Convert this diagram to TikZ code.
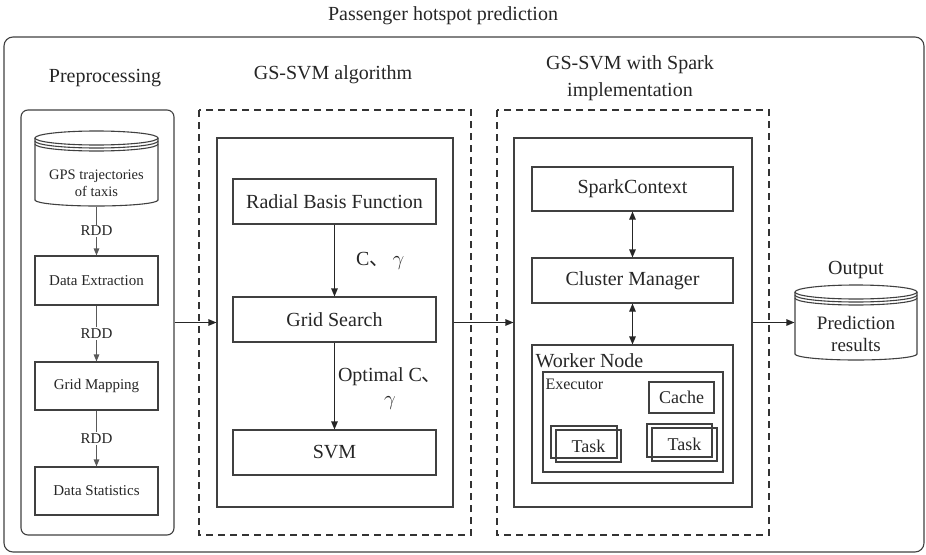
\documentclass[tikz,border=0pt]{standalone}
\usepackage{fontspec}
\setmainfont{Liberation Serif}
\newfontfamily\cjk{Noto Sans CJK SC}
\usetikzlibrary{arrows.meta}
\begin{document}
\begin{tikzpicture}[x=1pt,y=-1pt,line width=1.1pt,
  ln/.style={draw=black!75},
  box/.style={draw=black!75,rectangle,inner sep=0pt,text=black!85,font=\fontsize{20}{24}\selectfont},
  sbox/.style={box,font=\fontsize{15}{18}\selectfont},
  tbox/.style={box,font=\fontsize{18}{21}\selectfont},
  arr/.style={draw=black!85,-{Triangle[length=8pt,width=6.5pt]}},
  sarr/.style={draw=black!65,-{Triangle[length=7pt,width=5.5pt]}},
  darr/.style={draw=black!85,{Triangle[length=8pt,width=6.5pt]}-{Triangle[length=8pt,width=6.5pt]}},
  lbl/.style={font=\fontsize{20}{24}\selectfont,text=black!85,inner sep=1pt},
  slbl/.style={font=\fontsize{15}{18}\selectfont,text=black!85,fill=white,inner sep=1.5pt},
  dashbox/.style={draw=black!80,dash pattern=on 7pt off 5pt}]
\useasboundingbox (0,0) rectangle (926,554);

% title and outer frame
\node[lbl] (title) at (443,16) {Passenger hotspot prediction};
\draw[ln,rounded corners=9pt] (4,37) rectangle (924,552);

% headers
\node[lbl] (hprep) at (105,78) {Preprocessing};
\node[lbl] (hgs) at (333,75) {GS-SVM algorithm};
\node[lbl,align=center,font=\fontsize{20}{27}\selectfont] (hsp) at (630,78) {GS-SVM with Spark\\implementation};
\node[lbl] (hout) at (856,270) {Output};

% ---------- Preprocessing ----------
\node[draw=black!75,rounded corners=7pt,minimum width=153pt,minimum height=425pt,inner sep=0pt] (prep) at (97.5,322.5) {};
% GPS cylinder
\draw[ln] (96.5,138) ellipse[x radius=61.5,y radius=7];
\draw[ln] (35,141) arc[start angle=180,end angle=0,x radius=61.5,y radius=7];
\draw[ln] (35,144) arc[start angle=180,end angle=0,x radius=61.5,y radius=7];
\draw[ln] (35,138) -- (35,200) arc[start angle=180,end angle=0,x radius=61.5,y radius=6] -- (158,138);
\node[inner sep=0pt,minimum width=123pt,minimum height=75pt] (gps) at (96.5,168.5) {};
\node[font=\fontsize{14.5}{17}\selectfont,text=black!85,align=center] (gpstxt) at (96.5,183) {GPS trajectories\\of taxis};

\node[sbox,minimum width=123pt,minimum height=49pt] (de) at (96.5,280.5) {Data Extraction};
\node[sbox,minimum width=123pt,minimum height=48pt] (gm) at (96.5,386) {Grid Mapping};
\node[sbox,minimum width=123pt,minimum height=48pt] (ds) at (96.5,491) {Data Statistics};
\draw[sarr] (gps) -- node[slbl] (r1) {RDD} (de);
\draw[sarr] (de) -- node[slbl] (r2) {RDD} (gm);
\draw[sarr] (gm) -- node[slbl] (r3) {RDD} (ds);

% ---------- GS-SVM ----------
\draw[dashbox] (199,110) rectangle (471,535);
\node[box,minimum width=236pt,minimum height=369pt] (gsin) at (335,322.5) {};
\node[box,minimum width=203pt,minimum height=45pt] (rbf) at (334.5,201.5) {Radial Basis Function};
\node[box,minimum width=203pt,minimum height=45pt] (gs) at (334.5,319.5) {Grid Search};
\node[box,minimum width=203pt,minimum height=45pt] (svm) at (334.5,452.5) {SVM};
\draw[arr] (rbf) -- node[lbl,anchor=west,xshift=20pt] (l1) {C{\cjk 、}\,$\gamma$} (gs);
\draw[arr] (gs) -- node[lbl,anchor=west,align=center,xshift=2pt,yshift=-3pt] (l2) {Optimal C{\cjk 、}\\$\gamma$} (svm);
\draw[arr] (prep.east) -- (prep.east -| gsin.west);

% ---------- Spark ----------
\draw[dashbox] (497,110) rectangle (769,535);
\node[box,minimum width=238pt,minimum height=369pt] (spin) at (633,322.5) {};
\node[box,minimum width=201pt,minimum height=44pt] (sc) at (632.5,189) {SparkContext};
\node[box,minimum width=201pt,minimum height=45pt] (cm) at (632.5,280.5) {Cluster Manager};
\node[box,minimum width=201pt,minimum height=138pt] (wn) at (632.5,414) {};
\node[lbl,anchor=west] (wntxt) at (534,361) {Worker Node};
\node[box,minimum width=180pt,minimum height=100pt] (ex) at (633,422) {};
\node[anchor=west,inner sep=1pt,font=\fontsize{16}{19}\selectfont,text=black!85] (extxt) at (544,384) {Executor};
\node[tbox,minimum width=65pt,minimum height=31pt] (cache) at (681.5,397.5) {Cache};
\node[box,minimum width=66pt,minimum height=32pt] (t1b) at (584,442) {};
\node[tbox,minimum width=65pt,minimum height=32pt] (t1) at (588.5,446) {Task};
\node[box,minimum width=65pt,minimum height=33pt] (t2b) at (679.5,440.5) {};
\node[tbox,minimum width=65pt,minimum height=33pt] (t2) at (684.5,444.5) {Task};
\draw[darr] (sc) -- (cm);
\draw[darr] (cm) -- (wn);
\draw[arr] (gsin.east) -- (spin.west);

% ---------- Output ----------
\draw[ln] (856,292) ellipse[x radius=61,y radius=7];
\draw[ln] (795,295) arc[start angle=180,end angle=0,x radius=61,y radius=7];
\draw[ln] (795,298) arc[start angle=180,end angle=0,x radius=61,y radius=7];
\draw[ln] (795,292) -- (795,354) arc[start angle=180,end angle=0,x radius=61,y radius=6] -- (917,292);
\node[inner sep=0pt,minimum width=122pt,minimum height=75pt] (out) at (856,322.5) {};
\node[font=\fontsize{19}{22}\selectfont,text=black!85,align=center] (outtxt) at (856,334) {Prediction\\results};
\draw[arr] (spin.east) -- (out.west);
\end{tikzpicture}
\end{document}
